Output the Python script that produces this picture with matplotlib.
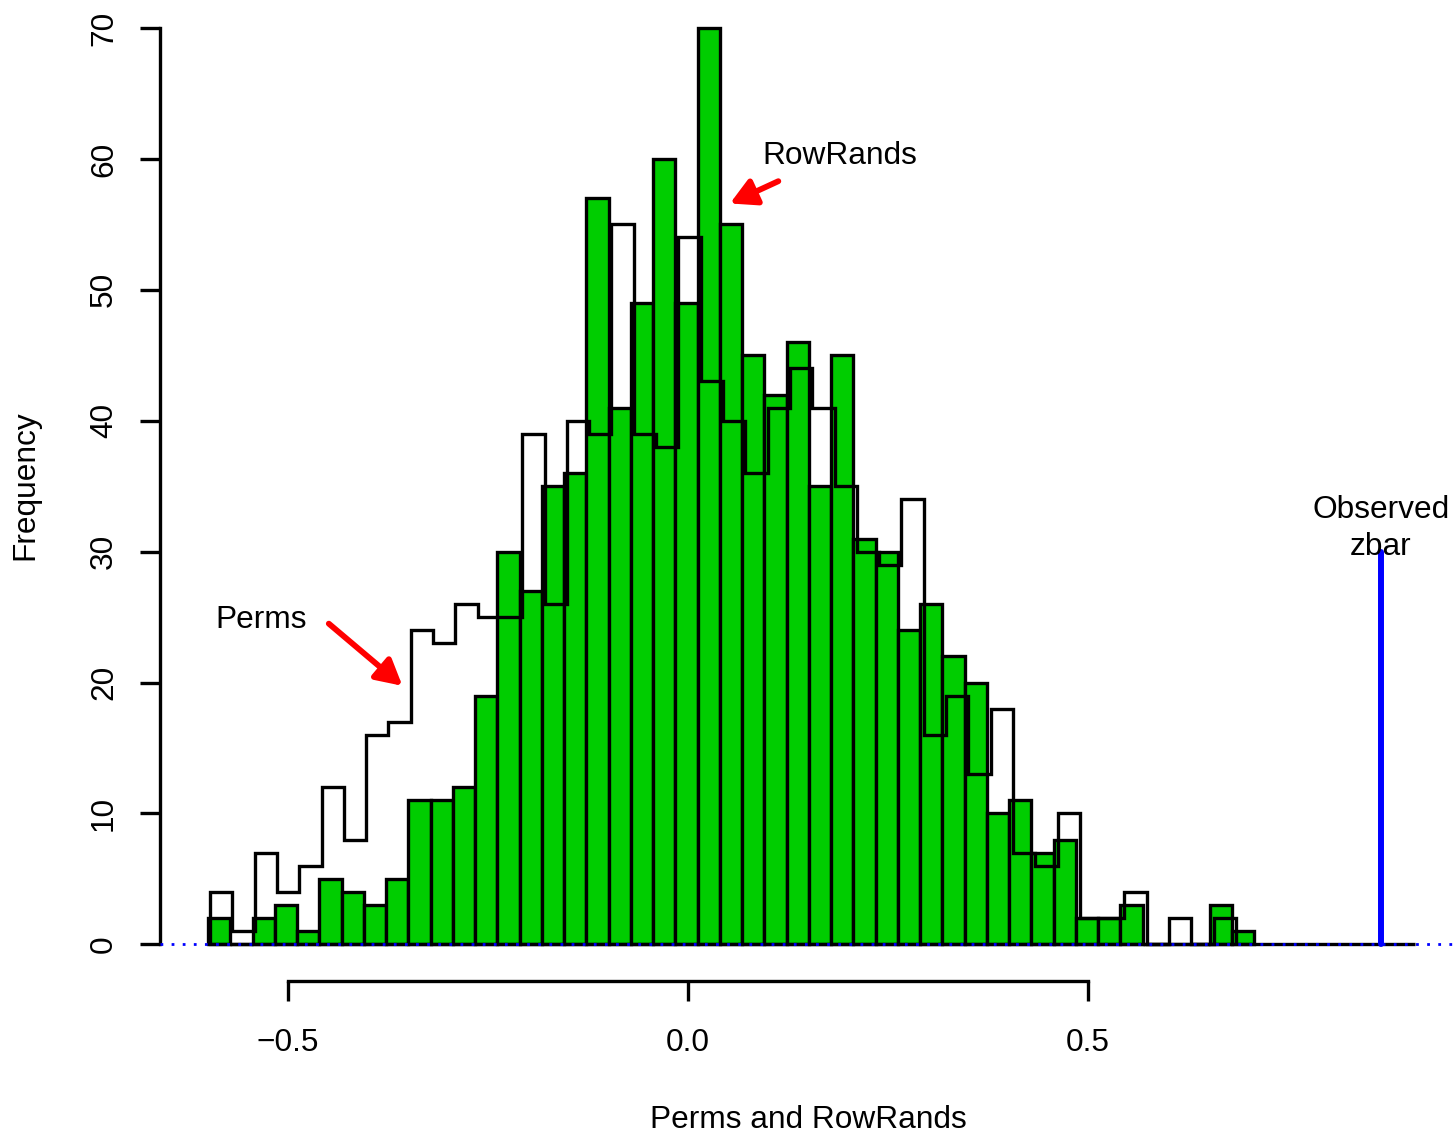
import numpy as np
import matplotlib
matplotlib.use("Agg")
import matplotlib.pyplot as plt
from matplotlib.patches import FancyArrowPatch

plt.rcParams['font.family'] = ['Liberation Sans', 'DejaVu Sans']

# ---- data ----
rowrands_start = -0.600
rowrands_width = 0.02782
rowrands_counts = [2, 0, 2, 3, 1, 5, 4, 3, 5, 11, 11, 12, 19, 30, 27, 35, 36, 57, 41, 49,
                   60, 49, 70, 55, 45, 42, 46, 35, 45, 31, 30, 24, 26, 22, 20, 10, 11, 7,
                   8, 2, 2, 3, 0, 0, 0, 3, 1]

perms_start = -0.5975
perms_width = 0.02788
perms_counts = [4, 1, 7, 4, 6, 12, 8, 16, 17, 24, 23, 26, 25, 25, 39, 26, 40, 39, 55, 39,
                38, 54, 43, 40, 36, 41, 44, 41, 35, 30, 29, 34, 16, 19, 13, 18, 7, 6, 10,
                2, 2, 4, 0, 2, 0, 2]

observed_zbar = 0.866
observed_height = 30
baseline_end = 0.909

xticks = [-0.5, 0.0, 0.5]
xtick_labels = ['\u22120.5', '0.0', '0.5']
yticks = [0, 10, 20, 30, 40, 50, 60, 70]
ytick_labels = ['0', '10', '20', '30', '40', '50', '60', '70']

FS = 22.8

W, H = 1454, 1134
fig = plt.figure(figsize=(W / 100, H / 100), dpi=100)
left_px, right_px, bottom_px, top_px = 160, 1456, 981, -8.6
ax = fig.add_axes([left_px / W, (H - bottom_px) / H,
                   (right_px - left_px) / W, (bottom_px - top_px) / H])
ax.set_xlim(-0.66, 0.96)
ax.set_ylim(-2.8, 72.8)

green_edges = rowrands_start + rowrands_width * np.arange(len(rowrands_counts))
perm_edges = perms_start + perms_width * np.arange(len(perms_counts) + 1)

ax.bar(green_edges, rowrands_counts, width=rowrands_width, align='edge',
       color='#00CD00', edgecolor='black', linewidth=2.4, zorder=2)
ax.stairs(perms_counts, perm_edges, baseline=0, fill=False,
          edgecolor='black', linewidth=2.4, zorder=3)

# baseline segment and observed value
ax.plot([rowrands_start, baseline_end], [0, 0], color='black', lw=2.4, zorder=3,
        solid_capstyle='butt')
ax.plot([observed_zbar, observed_zbar], [0, observed_height], color='#0000FF',
        lw=4.3, solid_capstyle='round', zorder=4)
ax.axhline(0, color='#0000FF', lw=2.0, linestyle=(0, (1, 3)), zorder=5)

# annotations
ax.text(observed_zbar, 31.75, 'Observed\nzbar', ha='center', va='center',
        fontsize=FS, linespacing=1.3, zorder=6)
ax.text(-0.533, 24.8, 'Perms', ha='center', va='center', fontsize=FS)
ax.text(0.19, 60.2, 'RowRands', ha='center', va='center', fontsize=FS)

for (x0, y0, x1, y1) in [(-0.449, 24.5, -0.357, 19.75), (0.1129, 58.3, 0.0525, 56.6)]:
    arr = FancyArrowPatch((x0, y0), (x1, y1),
                          arrowstyle='-|>,head_length=0.7,head_width=0.38',
                          color='red', lw=4.2, mutation_scale=22, zorder=6,
                          shrinkA=0, shrinkB=0, capstyle='round', joinstyle='round')
    ax.add_patch(arr)

# axes styling
for s in ['top', 'right']:
    ax.spines[s].set_visible(False)
ax.spines['left'].set_bounds(0, 70)
ax.spines['bottom'].set_bounds(-0.5, 0.5)
ax.spines['left'].set_linewidth(2.4)
ax.spines['bottom'].set_linewidth(2.4)
ax.spines['left'].set_capstyle('projecting')
ax.spines['bottom'].set_capstyle('projecting')

ax.set_xticks(xticks)
ax.set_xticklabels(xtick_labels)
ax.set_yticks(yticks)
ax.set_yticklabels(ytick_labels, rotation=90, va='center')
ax.tick_params(axis='both', direction='out', length=14.5, width=2.4,
               labelsize=FS, color='black')
ax.tick_params(axis='x', pad=19.5)
ax.tick_params(axis='y', pad=15)

fig.text(808 / W, 1 - 1120 / H, 'Perms and RowRands', ha='center', va='center',
         fontsize=FS)
fig.text(25 / W, 1 - 485 / H, 'Frequency', ha='center', va='center',
         rotation=90, fontsize=FS)

fig.savefig('out.png', dpi=100)
